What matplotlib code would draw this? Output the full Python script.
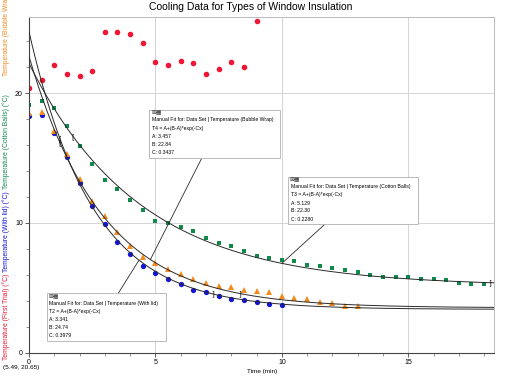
import numpy as np
import matplotlib
matplotlib.use("Agg")
import matplotlib.pyplot as plt
from matplotlib.patches import Rectangle
from matplotlib.ticker import MultipleLocator

plt.rcParams['font.family'] = ['Liberation Sans', 'DejaVu Sans']

time_first = [0, 0.5, 1, 1.5, 2, 2.5, 3, 3.5, 4, 4.5, 5, 5.5, 6, 6.5, 7, 7.5, 8, 8.5, 9]
temp_first = [20.4, 21.0, 22.2, 21.5, 21.3, 21.7, 24.75, 24.75, 24.55, 23.9,
              22.4, 22.2, 22.5, 22.3, 21.5, 21.85, 22.4, 22.0, 25.6]

time_lid = [0, 0.5, 1, 1.5, 2, 2.5, 3, 3.5, 4, 4.5, 5, 5.5, 6, 6.5, 7, 7.5, 8, 8.5, 9, 9.5, 10]
temp_lid = [18.25, 18.35, 16.9, 15.1, 13.06, 11.33, 9.95, 8.56, 7.6, 6.68, 6.17,
            5.66, 5.27, 4.83, 4.66, 4.37, 4.16, 4.06, 3.88, 3.78, 3.67]

time_bubble = [0, 0.5, 1, 1.5, 2, 2.5, 3, 3.5, 4, 4.5, 5, 5.5, 6, 6.5, 7, 7.5, 8, 8.5,
               9, 9.5, 10, 10.5, 11, 11.5, 12, 12.5, 13]
temp_bubble = [18.45, 18.55, 17.07, 15.3, 13.4, 11.7, 10.5, 9.33, 8.23, 7.35, 6.94,
               6.45, 6.04, 5.66, 5.35, 5.17, 5.04, 4.83, 4.76, 4.68, 4.35, 4.24,
               4.14, 3.93, 3.86, 3.62, 3.62]

time_cotton = [0, 0.5, 1, 1.5, 2, 2.5, 3, 3.5, 4, 4.5, 5, 5.5, 6, 6.5, 7, 7.5, 8, 8.5,
               9, 9.5, 10, 10.5, 11, 11.5, 12, 12.5, 13, 13.5, 14, 14.5, 15, 15.5,
               16, 16.5, 17, 17.5, 18]
temp_cotton = [19.07, 19.43, 18.84, 17.45, 15.96, 14.57, 13.34, 12.65, 11.77, 10.98,
               10.18, 9.98, 9.67, 9.38, 8.87, 8.48, 8.25, 7.86, 7.48, 7.28, 7.15,
               7.07, 6.76, 6.68, 6.55, 6.38, 6.2, 5.99, 5.86, 5.86, 5.86, 5.68,
               5.68, 5.6, 5.37, 5.27, 5.27]

# manual fit parameters shown in the boxes: T = A + (B - A) * exp(-C x)
fit_lid = (3.341, 24.74, 0.3979)
fit_bubble = (3.457, 22.84, 0.3437)
fit_cotton = (5.129, 22.30, 0.2280)

c_red = '#ee1634'
c_blue = '#1212d8'
c_orange = '#f28a1e'
c_green = '#0f8a4c'
c_fit = '#2a2a2a'

XMAX = 18.39
YMAX = 25.9


def model(t, p):
    a, b, c = p
    return a + (b - a) * np.exp(-c * np.asarray(t))


def fit_box(ax, x0, x1, ytop, ybot, name, label, p, tip_from, tip_to):
    # white box with the fit description and a leader line to the curve
    ax.plot([tip_from[0], tip_to[0]], [tip_from[1], tip_to[1]],
            color=c_fit, lw=0.6, zorder=4)
    ax.add_patch(Rectangle((x0, ybot), x1 - x0, ytop - ybot, facecolor='white',
                           edgecolor='#b0b0b0', lw=0.6, zorder=5))
    ax.annotate('\u22a0\u25a6', (x0, ytop), xytext=(1.2, -2.2), textcoords='offset points',
                fontsize=4.2, va='center', ha='left', zorder=6, color='#333333',
                family=['DejaVu Sans'])
    lines = ['Manual Fit for: Data Set | Temperature (%s)' % label,
             '%s = A+(B-A)*exp(-Cx)' % name,
             'A: %.3f' % p[0], 'B: %.2f' % p[1], 'C: %.4f' % p[2]]
    offs = [7.2, 13.2, 19.2, 24.7, 30.5]
    for txt, off in zip(lines, offs):
        ax.annotate(txt, (x0, ytop), xytext=(1.8, -off), textcoords='offset points',
                    fontsize=3.7, va='center', ha='left', zorder=6)


fig = plt.figure(figsize=(5.07, 3.77), dpi=100)
ax = fig.add_axes([29 / 507, 24.3 / 377, 465 / 507, 336 / 377])

t_fit = np.linspace(0, XMAX, 400)
for p in (fit_lid, fit_bubble, fit_cotton):
    ax.plot(t_fit, model(t_fit, p), color=c_fit, lw=0.7, zorder=3)

ax.plot(time_first, temp_first, 'o', color=c_red, ms=4.0, mew=0, zorder=2)
ax.plot(time_lid, temp_lid, 'o', color=c_blue, ms=3.8, mew=0, zorder=2)
ax.plot(time_bubble, temp_bubble, '^', color=c_orange, ms=4.0, mew=0, zorder=2)
ax.plot(time_cotton, temp_cotton, 's', color=c_green, ms=3.3, mew=0, zorder=2)

# fit range brackets
for t, p, s in [(1.75, fit_cotton, '['), (1.22, fit_bubble, '['), (1.22, fit_lid, '['),
                (18.2, fit_cotton, ']'), (8.35, fit_bubble, ']'), (7.25, fit_lid, ']')]:
    ax.text(t, model(t, p), s, fontsize=5, ha='center', va='center', zorder=4,
            family=['DejaVu Sans'])

fit_box(ax, 4.76, 9.92, 18.71, 14.99, 'T4', 'Bubble Wrap', fit_bubble,
        (6.83, 14.99), (4.8, float(model(4.8, fit_bubble))))
fit_box(ax, 10.25, 15.39, 13.57, 9.90, 'T3', 'Cotton Balls', fit_cotton,
        (11.70, 9.90), (10.0, float(model(10.0, fit_cotton))))
fit_box(ax, 0.70, 5.42, 4.58, 0.90, 'T2', 'With lid', fit_lid,
        (3.53, 4.58), (4.35, float(model(4.35, fit_lid))))

ax.set_xlim(0, XMAX)
ax.set_ylim(0, YMAX)
ax.set_xticks([0, 5, 10, 15])
ax.set_yticks([0, 10, 20])
ax.xaxis.set_minor_locator(MultipleLocator(1))
ax.yaxis.set_minor_locator(MultipleLocator(2))
ax.tick_params(which='major', direction='out', length=3, width=0.6, color='#444444',
               labelsize=5, pad=1.5)
ax.tick_params(which='minor', direction='out', length=2, width=0.5, color='#666666')
ax.grid(True, which='major', color='#d4d4d4', lw=0.7)
ax.set_axisbelow(True)
for side in ('left', 'bottom'):
    ax.spines[side].set_color('#444444')
    ax.spines[side].set_linewidth(0.8)
for side in ('top', 'right'):
    ax.spines[side].set_color('#bbbbbb')
    ax.spines[side].set_linewidth(0.7)

fig.text(251 / 507, 1 - 7.5 / 377, 'Cooling Data for Types of Window Insulation',
         fontsize=7.5, ha='center', va='center')
fig.text(262 / 507, 1 - 372 / 377, 'Time (min)', fontsize=4.6, ha='center', va='center')
fig.text(3.3 / 507, 1 - 368 / 377, '(5.49, 20.65)', fontsize=4.6, ha='left', va='center')

ylabels = [('Temperature (First Trial) (°C)', c_red, 360),
           ('Temperature (With lid) (°C)', c_blue, 272),
           ('Temperature (Cotton Balls) (°C)', c_green, 189),
           ('Temperature (Bubble Wrap) (°C)', c_orange, 76)]
for txt, col, ystart in ylabels:
    fig.text(6.5 / 507, 1 - ystart / 377, txt, color=col, fontsize=4.9,
             rotation=90, ha='center', va='bottom')

fig.savefig('out.png', dpi=100)
